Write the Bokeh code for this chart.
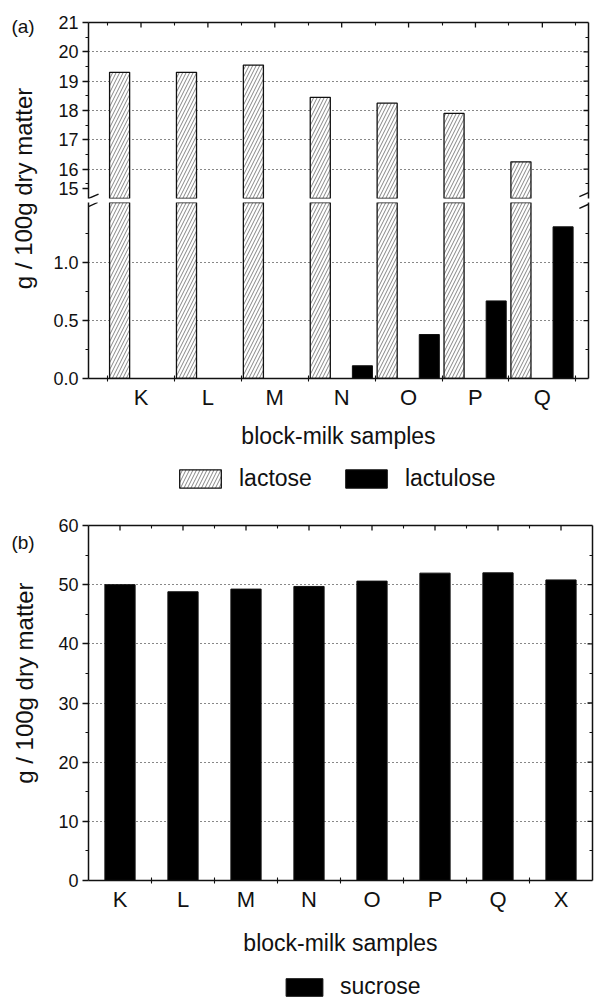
import numpy as np
from math import pi
from bokeh.plotting import figure
from bokeh.models import (Range1d, LinearAxis, FixedTicker, Label, Legend, LegendItem,
                          Grid, ColumnDataSource)
from bokeh.layouts import column, row
from bokeh.transform import dodge
from bokeh.embed import file_html
from bokeh.resources import INLINE

# ---------------- data ----------------
samples_a = ["K", "L", "M", "N", "O", "P", "Q"]
lactose = [19.3, 19.3, 19.55, 18.45, 18.25, 17.9, 16.25]
lactulose = [0.0, 0.0, 0.0, 0.11, 0.38, 0.67, 1.31]

samples_b = ["K", "L", "M", "N", "O", "P", "Q", "X"]
sucrose = [50.0, 48.8, 49.25, 49.7, 50.6, 51.95, 52.0, 50.8]

upper_ticks = [15, 16, 17, 18, 19, 20, 21]
upper_grid = [16, 17, 18, 19, 20]
lower_ticks = [0.0, 0.5, 1.0]
lower_tick_labels = ["0.0", "0.5", "1.0"]
b_ticks = [0, 10, 20, 30, 40, 50, 60]
b_grid = [10, 20, 30, 40, 50]

FONT = "Liberation Sans"
INK = "#111111"
YLABEL = "g / 100g dry matter"
XLABEL = "block-milk samples"

# axis limits
XA = (-0.785, 6.69)
UPPER = (15, 21)
LOWER_MAX = 1.52
XB = (-0.5, 7.5)
YB = (0, 60)


def make_axis(ticks, minor, tin, tout, mtin, mtout, size="18px", overrides=None):
    ax = LinearAxis(ticker=FixedTicker(ticks=list(ticks), minor_ticks=list(minor)))
    ax.axis_line_width = 1.5
    ax.axis_line_color = INK
    ax.major_tick_in = tin
    ax.major_tick_out = tout
    ax.minor_tick_in = mtin
    ax.minor_tick_out = mtout
    ax.major_tick_line_width = 1.3
    ax.minor_tick_line_width = 1.1
    ax.major_tick_line_color = INK
    ax.minor_tick_line_color = INK
    ax.major_label_text_font = FONT
    ax.major_label_text_font_size = size
    ax.major_label_text_color = INK
    ax.major_label_standoff = 4
    if overrides:
        ax.major_label_overrides = overrides
    return ax


def frame_axis(minor, length):
    """Axis line with inward ticks only (no labels)."""
    ax = LinearAxis(ticker=FixedTicker(ticks=[], minor_ticks=list(minor)))
    ax.axis_line_width = 1.5
    ax.axis_line_color = INK
    ax.minor_tick_in = length
    ax.minor_tick_out = 0
    ax.minor_tick_line_width = 1.1
    ax.minor_tick_line_color = INK
    ax.major_tick_in = 0
    ax.major_tick_out = 0
    ax.major_label_standoff = 0
    return ax


def long_ticks_right(p, x, ys):
    p.ray(x=x, y=list(ys), length=5, length_units="screen", angle=pi,
          line_color=INK, line_width=1.3)


def long_ticks_top(p, xs, y):
    p.ray(x=list(xs), y=y, length=5, length_units="screen", angle=-pi / 2,
          line_color=INK, line_width=1.3)


def stroke(p, x, y, angle, length=11):
    # axis-break stroke (decoration)
    p.ray(x=x, y=y, length=length, length_units="screen", angle=angle,
          line_color=INK, line_width=1.4)


def base_fig(w, h, xr, yr, left, right, top, bottom):
    return figure(width=w, height=h, x_range=Range1d(*xr), y_range=Range1d(*yr),
                  x_axis_type=None, y_axis_type=None, toolbar_location=None,
                  output_backend="svg", min_border_left=left, min_border_right=right,
                  min_border_top=top, min_border_bottom=bottom, outline_line_color=None)


def add_grid(p, ticks):
    g = Grid(dimension=1, ticker=FixedTicker(ticks=list(ticks)))
    g.grid_line_color = INK
    g.grid_line_dash = "1 3"
    g.grid_line_width = 1
    p.add_layout(g)


def style_xlabel(ax, standoff):
    ax.major_tick_line_color = None
    ax.major_label_standoff = 3
    ax.axis_label = XLABEL
    ax.axis_label_text_font = FONT
    ax.axis_label_text_font_size = "23px"
    ax.axis_label_text_font_style = "normal"
    ax.axis_label_text_color = INK
    ax.axis_label_standoff = standoff


def side_fig(w, h):
    return figure(width=w, height=h, x_range=Range1d(0, w), y_range=Range1d(0, h),
                  x_axis_type=None, y_axis_type=None, toolbar_location=None,
                  output_backend="svg", min_border=0, outline_line_color=None)


def side_text(p, x, y, text, size, angle=0.0):
    p.add_layout(Label(x=x, y=y, text=text, angle=angle, text_align="center",
                       text_baseline="middle", text_font=FONT, text_font_size=size,
                       text_color=INK))


def legend_fig(w, h, xr, yr):
    return figure(width=w, height=h, x_range=Range1d(*xr), y_range=Range1d(*yr),
                  x_axis_type=None, y_axis_type=None, toolbar_location=None,
                  output_backend="svg", min_border_left=88, min_border_right=0,
                  min_border_top=0, min_border_bottom=0, outline_line_color=None)


def make_legend(items, loc, gw, gh):
    return Legend(items=items, orientation="horizontal", location=loc,
                  glyph_width=gw, glyph_height=gh, label_height=gh,
                  label_text_font=FONT, label_text_font_size="23px",
                  label_text_color=INK, label_standoff=13, spacing=28,
                  padding=0, margin=0, border_line_color=None,
                  background_fill_alpha=0, inactive_fill_alpha=0)


idx_a = list(range(len(samples_a)))
bounds_a = list(np.arange(-0.5, len(samples_a), 1.0))
src_a = ColumnDataSource(dict(x=idx_a, sample=samples_a, lactose=lactose, lactulose=lactulose))
over_a = {i: s for i, s in zip(idx_a, samples_a)}
upper_minor = list(np.arange(UPPER[0] + 0.5, UPPER[1], 1.0))
lower_minor = [0.25, 0.75, 1.25]

hatch = dict(fill_color="white", hatch_pattern="/", hatch_color="#333333", hatch_scale=7,
             hatch_weight=0.6, line_color=INK, line_width=1.3)
solid = dict(fill_color="black", line_color=INK, line_width=1)

# ---------------- panel (a) upper ----------------
pu = base_fig(546, 200, XA, UPPER, 40, 6, 22, 2)
add_grid(pu, upper_grid)
pu.vbar(x=dodge("x", -0.32), top="lactose", bottom=0, width=0.3, source=src_a, **hatch)
# the lowest label ("15") is lifted a little above the break, as in the original
lab15 = UPPER[0] + 0.34
pu.add_layout(make_axis([lab15] + upper_ticks[1:], upper_minor, 0, 6, 0, 3,
                        overrides={lab15: str(upper_ticks[0])}), "left")
pu.add_layout(frame_axis(upper_minor, 3), "right")
pu.add_layout(frame_axis(bounds_a, 3), "above")
long_ticks_right(pu, XA[1], upper_ticks[1:-1])
long_ticks_top(pu, idx_a, UPPER[1])
stroke(pu, XA[0], UPPER[0], 0.42)
stroke(pu, XA[1], UPPER[0] + 0.2, pi + 0.42, 10)

# ---------------- panel (a) lower ----------------
pl = base_fig(546, 255, XA, (0, LOWER_MAX), 40, 6, 2, 77)
add_grid(pl, [0.5, 1.0])
pl.vbar(x=dodge("x", -0.32), top="lactose", bottom=0, width=0.3, source=src_a, **hatch)
pl.vbar(x=dodge("x", 0.31), top="lactulose", bottom=0, width=0.3, source=src_a, **solid)
pl.add_layout(make_axis(lower_ticks, lower_minor, 0, 6, 0, 3,
                        overrides={v: s for v, s in zip(lower_ticks, lower_tick_labels)}), "left")
pl.add_layout(frame_axis(lower_minor, 3), "right")
long_ticks_right(pl, XA[1], lower_ticks[1:])
xa_axis = make_axis(idx_a, bounds_a, 0, 3, 3, 3, size="22px", overrides=over_a)
style_xlabel(xa_axis, 10)
pl.add_layout(xa_axis, "below")
stroke(pl, XA[0], LOWER_MAX - 0.035, 0.42, 10)
stroke(pl, XA[1], LOWER_MAX - 0.015, pi + 0.42, 10)

# ---------------- panel (a) side labels ----------------
H_A = 200 + 255
plab = side_fig(48, H_A)
side_text(plab, 23, H_A - 188, YLABEL, "24px", pi / 2)
side_text(plab, 22.5, H_A - 26, "(a)", "19px")

# legend row for panel (a)
lga = legend_fig(594, 50, XA, (0, 1))
k_lac = lga.vbar(x=dodge("x", -0.32), top="lactose", width=0.3, source=src_a,
                 visible=False, **hatch)
k_lul = lga.vbar(x=dodge("x", 0.31), top="lactulose", width=0.3, source=src_a,
                 visible=False, **solid)
lga.add_layout(make_legend([LegendItem(label="lactose", renderers=[k_lac]),
                            LegendItem(label="lactulose", renderers=[k_lul])],
                           (86, 13), 52, 23))

# ---------------- panel (b) ----------------
idx_b = list(range(len(samples_b)))
bounds_b = list(np.arange(0.5, len(samples_b) - 1, 1.0))
src_b = ColumnDataSource(dict(x=idx_b, sample=samples_b, sucrose=sucrose))
over_b = {i: s for i, s in zip(idx_b, samples_b)}
b_minor = list(np.arange(5, 60, 10))

H_B = 455
pb = base_fig(546, H_B, XB, YB, 40, 2, 20, 80)
add_grid(pb, b_grid)
pb.vbar(x="x", top="sucrose", bottom=0, width=0.48, source=src_b, **solid)
pb.add_layout(make_axis(b_ticks, b_minor, 0, 6, 0, 3), "left")
pb.add_layout(frame_axis(b_minor, 3), "right")
pb.add_layout(frame_axis(bounds_b, 3), "above")
long_ticks_right(pb, XB[1], b_ticks[1:-1])
long_ticks_top(pb, idx_b, YB[1])
xb_axis = make_axis(idx_b, bounds_b, 0, 3, 3, 3, size="22px", overrides=over_b)
style_xlabel(xb_axis, 15)
pb.add_layout(xb_axis, "below")

plabb = side_fig(48, H_B)
side_text(plabb, 24, H_B - 202, YLABEL, "24px", pi / 2)
side_text(plabb, 22.5, H_B - 22, "(b)", "19px")

# legend row for panel (b)
lgb = legend_fig(594, 40, XB, (0, 1))
k_suc = lgb.vbar(x="x", top="sucrose", width=0.48, source=src_b, visible=False, **solid)
lgb.add_layout(make_legend([LegendItem(label="sucrose", renderers=[k_suc])],
                           (193, 0), 46, 22))

layout = column(row(plab, column(pu, pl)), lga, row(plabb, pb), lgb)
open("out.html", "w").write(file_html(layout, INLINE))
